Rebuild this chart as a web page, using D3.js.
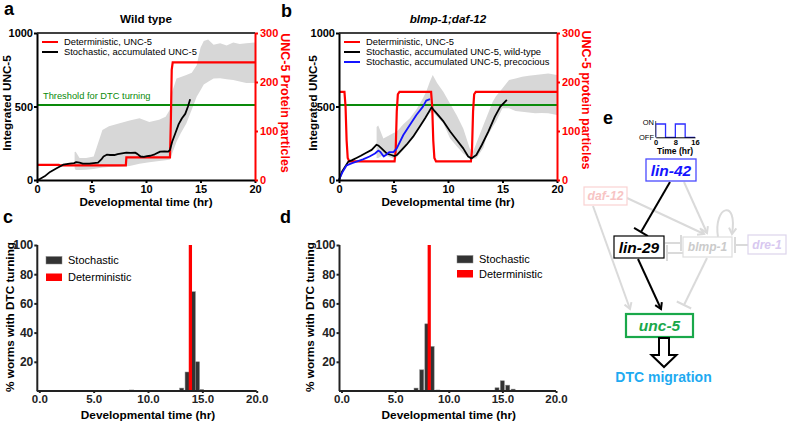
<!DOCTYPE html>
<html><head><meta charset="utf-8">
<script src="https://cdn.jsdelivr.net/npm/d3@7"></script>
<style>body{margin:0;background:#fff} svg{display:block}</style>
</head><body><svg id="chart" width="787" height="421"></svg>
<script>
// ================= DATA =================
const timeTicks = [0, 5, 10, 15, 20];
const leftTicks = [0, 500, 1000];
const rightTicks = [0, 100, 200, 300];
const pctTicks = [20, 40, 60, 80, 100];
const threshold = 510;

// Panel a (wild type)
const aDetTime = [0, 2, 2.1, 8.15, 8.2, 12.2, 12.28, 12.36, 12.45, 20];
const aDetVal  = [31, 31, 30, 30, 46, 46, 120, 225, 240, 240];
const aStochTime = [0,0.3,0.7,1.2,1.8,2.4,3.0,3.4,3.6,3.9,4.2,4.8,5.2,5.6,5.9,6.1,6.4,6.7,7.1,7.4,7.8,8.2,8.6,9.0,9.2,9.5,9.8,10.1,10.4,10.8,11.3,11.7,12.05,12.2,12.4,12.7,13.0,13.3,13.6,13.85,14.05];
const aStochVal  = [0,8,25,55,80,104,112,115,122,118,112,112,115,118,140,160,172,170,170,176,181,186,185,186,178,160,158,163,165,175,193,195,193,205,260,320,380,420,450,500,550];
const aBandTime = [3.45,3.55,3.9,4.5,5.2,5.6,6.0,6.6,7.5,8.5,9.4,10.3,11.2,11.8,12.2,12.4,12.8,13.2,13.7,14.2,14.65,15.0,15.3,15.7,16.2,16.8,17.4,18.0,18.6,19.2,20];
const aBandLow  = [80,68,68,70,75,80,85,88,90,95,110,120,130,135,140,181,260,320,385,480,567,610,650,669,690,692,685,680,670,660,660];
const aBandHigh = [190,192,150,150,160,250,340,365,385,405,420,395,410,430,480,600,690,700,715,730,780,900,945,955,920,930,915,935,925,930,935];

// Panel b (blmp-1;daf-12)
const bDetTime = [0,0.5,0.6,0.7,0.8,0.95,5.1,5.2,5.3,5.4,5.55,8.45,8.55,8.65,8.75,8.9,12.1,12.2,12.3,12.4,12.55,20];
const bDetVal  = [180,180,150,80,45,38,38,60,140,175,180,180,150,80,45,38,38,60,140,175,180,180];
const bWtTime = [0,0.3,0.85,1.2,1.6,2.0,2.5,3.0,3.45,3.6,3.9,4.4,4.8,5.1,5.3,5.6,6.2,6.8,7.4,7.9,8.3,8.5,8.7,9.0,9.6,10.2,10.8,11.4,11.85,12.15,12.4,12.6,13.1,13.7,14.3,14.8,15.4];
const bWtVal  = [0,60,125,135,150,165,185,205,240,235,215,180,170,163,170,193,240,295,363,420,470,495,475,450,397,330,272,215,160,147,160,170,238,329,431,499,545];
const bPreTime = [0,0.3,0.7,1.2,1.6,2.2,2.8,3.3,3.6,3.8,4.1,4.3,4.6,5.0,5.3,5.9,6.5,7.1,7.7,8.0,8.35];
const bPreVal  = [0,50,100,115,125,140,160,180,200,190,160,170,190,190,215,306,374,442,499,540,550];
const bBandTime = [3.45,3.6,4.07,4.5,5.0,5.3,5.9,6.5,7.1,7.7,8.0,8.33,8.6,9.0,9.57,10.18,10.8,11.4,12.0,12.3,12.6,13.25,13.5,14.1,14.4,15.0,15.6,16.2,16.8,17.4,18.0,18.6,19.2,20];
const bBandHigh = [360,370,283,300,320,329,380,420,480,556,600,669,714,660,601,520,440,351,215,193,250,374,420,533,570,624,680,690,703,710,714,720,725,714];
const bBandLow  = [150,150,170,160,147,155,204,260,329,400,431,455,465,430,386,284,230,181,147,147,147,220,284,360,397,488,488,470,465,460,454,456,454,442];

// Panel c (wild type histogram)
const cBins  = [8.5, 13.1, 13.6, 14.17, 14.55, 14.92];
const cStoch = [0.7, 2, 13, 68, 20, 1];
const cDetTime = 13.9, cDetVal = 100;

// Panel d (blmp-1;daf-12 histogram)
const dBins  = [6.95, 7.48, 7.96, 8.45, 8.98, 14.5, 15.0, 15.5, 16.0];
const dStoch = [2, 14.5, 46, 30.5, 0.7, 2.2, 7, 4, 1.3];
const dDetTime = 8.18, dDetVal = 100;

// Panel e inset (lin-42 pulse)
const pulseTime  = [0, 0, 4, 8, 12, 16];
const pulseState = [0, 1, 0, 1, 0, 0];
const pulseTicks = [0, 8, 16];

// ================= DRAW =================
const FONT = '"Liberation Sans", Arial, Helvetica, sans-serif';
const RED = '#ff0000', GREEN = '#0a8a0a', BLUE = '#1414ff', BAND = '#d7d7d7';
const svg = d3.select('#chart').attr('font-family', FONT);
svg.append('rect').attr('width', 787).attr('height', 421).attr('fill', '#fff');

function styleAxis(g, color, width, fs){
  g.attr('font-family', FONT);
  g.select('.domain').attr('stroke', color).attr('stroke-width', width);
  g.selectAll('.tick line').attr('stroke', color).attr('stroke-width', width);
  g.selectAll('.tick text').attr('fill', color).attr('font-size', fs).attr('font-weight', 'bold');
}
function txt(x, y, s, o = {}){
  const t = svg.append('text').attr('x', x).attr('y', y).text(s)
    .attr('font-size', o.size || 12).attr('font-weight', o.weight || 'normal')
    .attr('fill', o.fill || '#000').attr('text-anchor', o.anchor || 'start');
  if (o.italic) t.attr('font-style', 'italic');
  if (o.rot !== undefined) t.attr('transform', `rotate(${o.rot},${x},${y})`);
  return t;
}

function linePanel(o){
  const x = d3.scaleLinear().domain([0, 20]).range([o.x0, o.x1]);
  const yL = d3.scaleLinear().domain([0, 1000]).range([180, 33]);
  const yR = d3.scaleLinear().domain([0, 300]).range([180, 33]);
  const g = svg.append('g');
  const area = d3.area().x(d => x(d[0])).y0(d => yL(d[1])).y1(d => yL(d[2]));
  g.append('path').datum(d3.zip(o.bandT, o.bandLo, o.bandHi)).attr('d', area).attr('fill', BAND);
  // top frame
  g.append('line').attr('x1', o.x0).attr('x2', o.x1).attr('y1', yL(1000)).attr('y2', yL(1000))
    .attr('stroke', '#000').attr('stroke-width', 1.5);
  // threshold
  g.append('line').attr('x1', o.x0).attr('x2', o.x1).attr('y1', yL(threshold)).attr('y2', yL(threshold))
    .attr('stroke', GREEN).attr('stroke-width', 2);
  const lineR = d3.line().x(d => x(d[0])).y(d => yR(d[1]));
  const lineL = d3.line().x(d => x(d[0])).y(d => yL(d[1]));
  g.append('path').datum(d3.zip(o.detT, o.detV)).attr('d', lineR)
    .attr('fill', 'none').attr('stroke', RED).attr('stroke-width', 2.2);
  o.series.forEach(s => {
    g.append('path').datum(d3.zip(s.t, s.v)).attr('d', lineL)
      .attr('fill', 'none').attr('stroke', s.color).attr('stroke-width', 1.8).attr('stroke-linejoin', 'round');
  });
  // axes
  const ax = g.append('g').attr('transform', 'translate(0,180)')
    .call(d3.axisBottom(x).tickValues(timeTicks).tickSize(3).tickSizeOuter(0).tickPadding(2));
  styleAxis(ax, '#000', 2, 11);
  const ay = g.append('g').attr('transform', `translate(${o.x0},0)`)
    .call(d3.axisLeft(yL).tickValues(leftTicks).tickFormat(d3.format('d')).tickSize(3).tickSizeOuter(0).tickPadding(1));
  styleAxis(ay, '#000', 2, 11);
  const ar = g.append('g').attr('transform', `translate(${o.x1},0)`)
    .call(d3.axisRight(yR).tickValues(rightTicks).tickSize(3).tickSizeOuter(0).tickPadding(2));
  styleAxis(ar, RED, 2, 11);
  // titles
  txt((o.x0 + o.x1) / 2, 206, 'Developmental time (hr)', {size: 11.7, weight: 'bold', anchor: 'middle'});
  txt(o.yTitleX, 103, 'Integrated UNC-5', {size: 11.7, weight: 'bold', anchor: 'middle', rot: -90});
  txt(o.rTitleX, o.rTitleY, o.rTitle, {size: 12.5, weight: 'bold', anchor: 'middle', rot: 90, fill: RED});
  txt((o.x0 + o.x1) / 2, 23, o.title, {size: 11.7, weight: 'bold', anchor: 'middle', italic: o.italic});
  // legend
  o.legend.forEach((l, i) => {
    const ly = 42 + i * 10;
    svg.append('line').attr('x1', o.x0 + 5).attr('x2', o.x0 + 21).attr('y1', ly).attr('y2', ly)
      .attr('stroke', l.color).attr('stroke-width', 2);
    txt(o.x0 + 27, ly + 3.3, l.label, {size: 9.4});
  });
}

linePanel({
  x0: 37, x1: 255, title: 'Wild type', italic: false,
  bandT: aBandTime, bandLo: aBandLow, bandHi: aBandHigh,
  detT: aDetTime, detV: aDetVal,
  series: [{t: aStochTime, v: aStochVal, color: '#000'}],
  yTitleX: 11, rTitleX: 281, rTitleY: 103, rTitle: 'UNC-5 Protein particles',
  legend: [{color: RED, label: 'Deterministic, UNC-5'}, {color: '#000', label: 'Stochastic, accumulated UNC-5'}]
});
txt(43, 99, 'Threshold for DTC turning', {size: 9.3, fill: GREEN});

linePanel({
  x0: 339, x1: 557, title: 'blmp-1;daf-12', italic: true,
  bandT: bBandTime, bandLo: bBandLow, bandHi: bBandHigh,
  detT: bDetTime, detV: bDetVal,
  series: [{t: bWtTime, v: bWtVal, color: '#000'}, {t: bPreTime, v: bPreVal, color: BLUE}],
  yTitleX: 317, rTitleX: 582, rTitleY: 100, rTitle: 'UNC-5 protein particles',
  legend: [{color: RED, label: 'Deterministic, UNC-5'}, {color: '#000', label: 'Stochastic, accumulated UNC-5, wild-type'},
           {color: BLUE, label: 'Stochastic, accumulated UNC-5, precocious'}]
});

function histPanel(o){
  const x = d3.scaleLinear().domain([0, 20]).range([o.x0, o.x1]);
  const y = d3.scaleLinear().domain([0, 100]).range([391, 245]);
  const g = svg.append('g');
  const hw = 0.19;
  g.selectAll('rect.bar').data(d3.zip(o.bins, o.vals)).join('rect')
    .attr('x', d => x(d[0] - hw)).attr('width', d => x(d[0] + hw) - x(d[0] - hw))
    .attr('y', d => y(d[1])).attr('height', d => y(0) - y(d[1]))
    .attr('fill', '#333').attr('stroke', '#8a8a8a').attr('stroke-width', 0.5);
  g.append('rect').attr('x', x(o.detT - 0.15)).attr('width', x(o.detT + 0.15) - x(o.detT - 0.15))
    .attr('y', y(o.detV)).attr('height', y(0) - y(o.detV)).attr('fill', RED);
  const ax = g.append('g').attr('transform', 'translate(0,391)')
    .call(d3.axisBottom(x).tickValues(timeTicks).tickFormat(d3.format('.1f')).tickSize(2).tickSizeOuter(0).tickPadding(1.5));
  styleAxis(ax, '#222', 2, 11.5);
  ax.select('.domain').attr('d', `M${o.x0 - 2.5},0H${o.x1}`);
  const ay = g.append('g').attr('transform', `translate(${o.x0 - 2},0)`)
    .call(d3.axisLeft(y).tickValues(pctTicks).tickSize(3).tickSizeOuter(0).tickPadding(1));
  styleAxis(ay, '#222', 2, 12);
  ay.select('.domain').attr('d', `M0,${y(0)}V${y(100)}`);
  txt((o.x0 + o.x1) / 2, 418.5, 'Developmental time (hr)', {size: 11.8, weight: 'bold', anchor: 'middle'});
  txt(o.yTitleX, 317, '% worms with DTC turning', {size: 11.8, weight: 'bold', anchor: 'middle', rot: -90});
  // legend
  const items = [{c: '#333', s: 'Stochastic'}, {c: RED, s: 'Deterministic'}];
  items.forEach((it, i) => {
    const ly = o.legY + i * o.legDy;
    svg.append('rect').attr('x', o.legX).attr('y', ly).attr('width', 16).attr('height', 7.5)
      .attr('fill', it.c).attr('stroke', it.c === RED ? 'none' : '#888').attr('stroke-width', 0.5);
    txt(o.legX + 22, ly + 7.5, it.s, {size: 11});
  });
}

histPanel({x0: 39.3, x1: 256.7, bins: cBins, vals: cStoch, detT: cDetTime, detV: cDetVal,
  yTitleX: 14, legX: 46, legY: 256.5, legDy: 17});
histPanel({x0: 341.5, x1: 556, bins: dBins, vals: dStoch, detT: dDetTime, detV: dDetVal,
  yTitleX: 314, legX: 457, legY: 255.5, legDy: 14.5});

// Panel letters
txt(4, 15, 'a', {size: 18, weight: 'bold'});
txt(281, 17, 'b', {size: 18, weight: 'bold'});
txt(3, 223, 'c', {size: 18, weight: 'bold'});
txt(280, 223, 'd', {size: 18, weight: 'bold'});
txt(603, 124, 'e', {size: 18, weight: 'bold'});

// ================= Panel e: network =================
const GRAY = '#dadada';
function chevron(x1, y1, x2, y2, color, w, len = 7){
  const a = Math.atan2(y2 - y1, x2 - x1);
  const p = [[x2 - len * Math.cos(a - 0.55), y2 - len * Math.sin(a - 0.55)], [x2, y2],
             [x2 - len * Math.cos(a + 0.55), y2 - len * Math.sin(a + 0.55)]];
  svg.append('path').attr('d', d3.line()(p)).attr('fill', 'none').attr('stroke', color)
    .attr('stroke-width', w).attr('stroke-linejoin', 'miter');
}
function edge(x1, y1, x2, y2, type, color, w){
  svg.append('line').attr('x1', x1).attr('y1', y1).attr('x2', x2).attr('y2', y2)
    .attr('stroke', color).attr('stroke-width', w);
  if (type === 'arrow') chevron(x1, y1, x2, y2, color, w);
  else {
    const a = Math.atan2(y2 - y1, x2 - x1), L = 8;
    svg.append('line').attr('x1', x2 + L * Math.sin(a)).attr('y1', y2 - L * Math.cos(a))
      .attr('x2', x2 - L * Math.sin(a)).attr('y2', y2 + L * Math.cos(a))
      .attr('stroke', color).attr('stroke-width', w);
  }
}
// gray edges
edge(684, 182, 707, 233, 'arrow', GRAY, 2);
edge(627, 198, 704, 234, 'arrow', GRAY, 2);
edge(593, 206, 630, 309, 'arrow', GRAY, 2);
edge(665, 243, 681, 243, 'bar', GRAY, 2);
edge(683, 253, 667, 253, 'bar', GRAY, 2);
edge(748, 245, 735, 245, 'bar', GRAY, 2);
edge(707, 258, 684, 305, 'bar', GRAY, 2);
svg.append('path').attr('d', 'M718,237 C713,206 738,198 732,234').attr('fill', 'none').attr('stroke', GRAY).attr('stroke-width', 2);
chevron(733, 225, 732, 234, GRAY, 2);
// black edges
edge(670, 182, 641, 232, 'bar', '#000', 2);
edge(638, 259, 661, 309, 'arrow', '#000', 2);

// boxes
const genes = [
  {name: 'lin-42', x: 646, y: 159, w: 50, h: 22, text: BLUE, border: '#4a4aff', size: 15.5, bw: 1.3},
  {name: 'daf-12', x: 584, y: 187, w: 43, h: 18, text: '#f7c4c4', border: '#fad2d2', size: 12.2, bw: 1.2},
  {name: 'lin-29', x: 614, y: 236, w: 50, h: 22, text: '#000', border: '#000', size: 15.5, bw: 1.2},
  {name: 'blmp-1', x: 683, y: 237, w: 49, h: 20, text: '#cbcbcb', border: '#dedede', size: 12, bw: 1.2},
  {name: 'dre-1', x: 748, y: 235, w: 38, h: 19, text: '#d8c8f0', border: '#dcd4ec', size: 12, bw: 1.2},
  {name: 'unc-5', x: 626, y: 314, w: 67, h: 23, text: '#1aa84a', border: '#1aa84a', size: 15.5, bw: 2.2}
];
genes.forEach(gn => {
  svg.append('rect').attr('x', gn.x).attr('y', gn.y).attr('width', gn.w).attr('height', gn.h)
    .attr('fill', '#fff').attr('stroke', gn.border).attr('stroke-width', gn.bw);
  txt(gn.x + gn.w / 2, gn.y + gn.h / 2 + gn.size * 0.36, gn.name,
    {size: gn.size, weight: 'bold', italic: true, anchor: 'middle', fill: gn.text});
});
// hollow arrow
svg.append('polygon').attr('points', '659,338 669,338 669,355 676.5,355 664,367 651.5,355 659,355')
  .attr('fill', '#fff').attr('stroke', '#000').attr('stroke-width', 2);
txt(663.5, 382, 'DTC migration', {size: 14, weight: 'bold', anchor: 'middle', fill: '#1eaaf1'});

// pulse inset
const px = d3.scaleLinear().domain([0, 16]).range([655.7, 695]);
const py = d3.scaleLinear().domain([0, 1]).range([137.3, 124]);
svg.append('path').datum(d3.zip(pulseTime, pulseState))
  .attr('d', d3.line().x(d => px(d[0])).y(d => py(d[1])).curve(d3.curveStepAfter))
  .attr('fill', 'none').attr('stroke', '#2d2dff').attr('stroke-width', 1.3);
const pa = svg.append('g').attr('transform', 'translate(0,137.3)')
  .call(d3.axisBottom(px).tickValues(pulseTicks).tickSize(0).tickPadding(2));
styleAxis(pa, '#000', 1, 7.5);
const pv = svg.append('g').attr('transform', 'translate(655.7,0)')
  .call(d3.axisLeft(py).tickValues([]).tickSize(0).tickSizeOuter(0));
pv.select('.domain').attr('stroke', '#555').attr('stroke-width', 1).attr('d', 'M0,137.3V121');
txt(654, 125, 'ON', {size: 7.5, anchor: 'end'});
txt(654, 140, 'OFF', {size: 7.5, anchor: 'end'});
txt(675, 154, 'Time (hr)', {size: 8.5, weight: 'bold', anchor: 'middle'});
</script></body></html>
